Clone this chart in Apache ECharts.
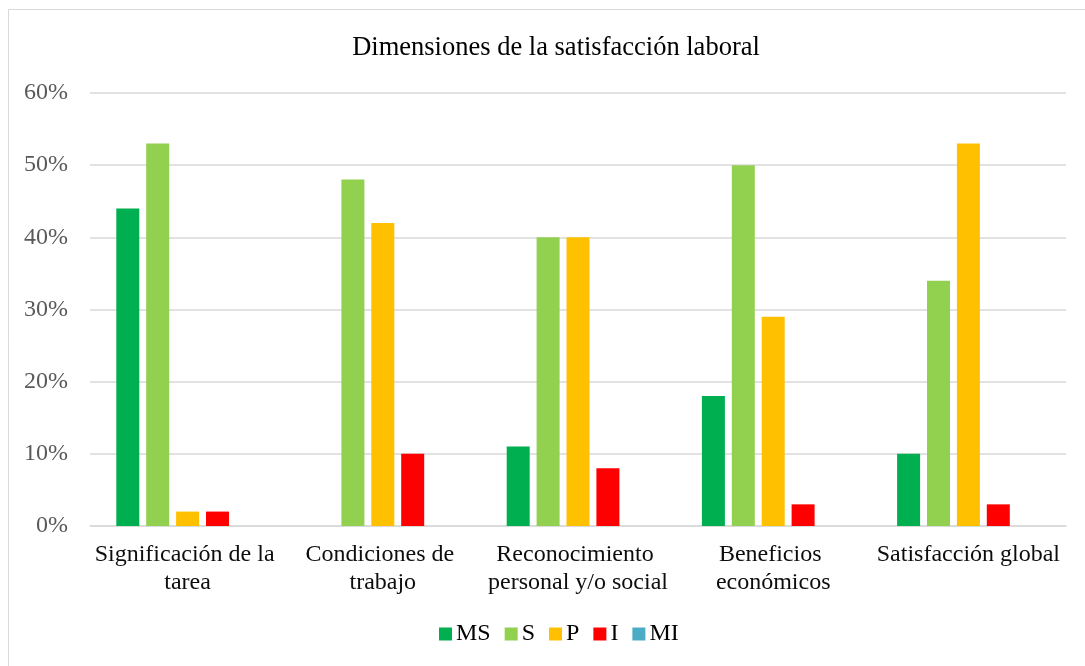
<!DOCTYPE html>
<html>
<head>
<meta charset="utf-8">
<script src="https://cdn.jsdelivr.net/npm/echarts@6/dist/echarts.min.js"></script>
<style>
html,body{margin:0;padding:0;background:#fff;}
#c{width:1085px;height:666px;}
</style>
</head>
<body>
<div id="c"></div>
<script>
var categories = ["Significación de la tarea", "Condiciones de trabajo", "Reconocimiento personal y/o social", "Beneficios económicos", "Satisfacción global"];
var seriesNames = ["MS", "S", "P", "I", "MI"];
var valMS = [44, 0, 11, 18, 10];
var valS  = [53, 48, 40, 50, 34];
var valP  = [2, 42, 40, 29, 53];
var valI  = [2, 10, 8, 3, 3];
var valMI = [0, 0, 0, 0, 0];
var yTicks = [0, 10, 20, 30, 40, 50, 60];
var colors = ["#00B050", "#92D050", "#FFC000", "#FF0000", "#4BACC6"];

var font = "'Liberation Serif', 'Times New Roman', serif";
var allVals = [valMS, valS, valP, valI, valMI];

var chart = echarts.init(document.getElementById('c'), null, {renderer: 'canvas'});
chart.setOption({
  animation: false,
  backgroundColor: '#fff',
  color: colors,
  graphic: [{
    type: 'rect',
    shape: {x: 8.5, y: 9.5, width: 1100, height: 700},
    style: {fill: 'none', stroke: '#d9d9d9', lineWidth: 1},
    z: -10
  }],
  title: {
    text: 'Dimensiones de la satisfacción laboral',
    left: 551,
    textAlign: 'center',
    top: 30,
    textStyle: {fontFamily: font, fontSize: 26.5, fontWeight: 'normal', color: '#000'}
  },
  legend: {
    data: seriesNames,
    left: 434,
    top: 617,
    itemWidth: 13,
    itemHeight: 13,
    itemGap: 14,
    icon: 'rect',
    textStyle: {fontFamily: font, fontSize: 24, color: '#000', padding: [0, 0, 0, -1]}
  },
  grid: {left: 90, right: 19, top: 93, bottom: 140, containLabel: false},
  xAxis: {
    type: 'category',
    data: categories,
    axisLine: {lineStyle: {color: '#d9d9d9', width: 1.5}},
    axisTick: {show: false},
    axisLabel: {
      interval: 0,
      margin: 15,
      width: 206,
      overflow: 'break',
      lineHeight: 28,
      fontFamily: font,
      fontSize: 24,
      color: '#0d0d0d'
    }
  },
  yAxis: {
    type: 'value',
    min: yTicks[0],
    max: yTicks[yTicks.length - 1],
    interval: 10,
    axisLine: {show: false},
    axisTick: {show: false},
    splitLine: {lineStyle: {color: '#d9d9d9', width: 1.5}},
    axisLabel: {
      margin: 22,
      fontFamily: font,
      fontSize: 24,
      color: '#595959',
      formatter: function (v) { return v + '%'; }
    }
  },
  series: seriesNames.map(function (n, i) {
    return {
      name: n,
      type: 'bar',
      data: allVals[i],
      barWidth: 23,
      barGap: '30%',
      itemStyle: {color: colors[i]}
    };
  })
});
</script>
</body>
</html>
